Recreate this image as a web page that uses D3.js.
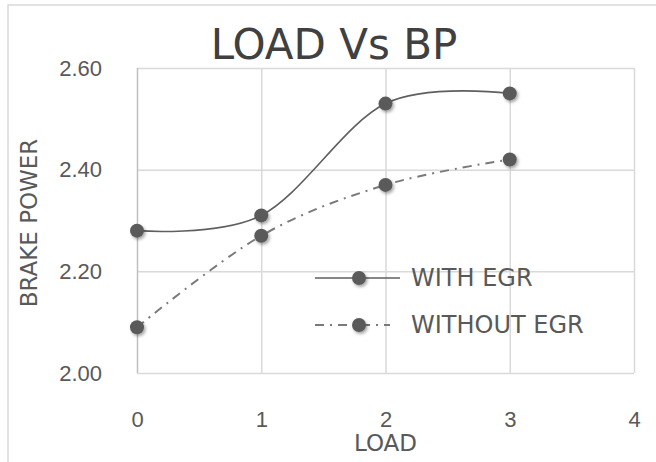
<!DOCTYPE html>
<html>
<head>
<meta charset="utf-8">
<script src="https://cdn.jsdelivr.net/npm/d3@7/dist/d3.min.js"></script>
<style>
  html, body { margin: 0; padding: 0; background: #fff; }
  svg { display: block; font-family: "DejaVu Sans", sans-serif; }
</style>
</head>
<body>
<svg id="chart" width="656" height="462"></svg>
<script>
// Данные графика
const loads = [0, 1, 2, 3];
const withEgr = [2.28, 2.31, 2.53, 2.55];
const withoutEgr = [2.09, 2.27, 2.37, 2.42];
const xTicks = [0, 1, 2, 3, 4];
const yTicks = [2.0, 2.2, 2.4, 2.6];
const seriesNames = ["WITH EGR", "WITHOUT EGR"];

const svg = d3.select("#chart");

// Рамка всей диаграммы (справа и снизу обрезана)
svg.append("rect")
    .attr("x", 8).attr("y", 5)
    .attr("width", 700).attr("height", 500)
    .attr("fill", "none")
    .attr("stroke", "#d9d9d9")
    .attr("stroke-width", 1.5);

const x = d3.scaleLinear().domain([0, 4]).range([137, 634]);
const y = d3.scaleLinear().domain([2.0, 2.6]).range([373, 68]);

const plotW = x.range()[1] - x.range()[0];
const plotH = y.range()[0] - y.range()[1];

// Тень для маркеров
const defs = svg.append("defs");
const shadow = defs.append("filter").attr("id", "shadow")
    .attr("x", "-50%").attr("y", "-50%").attr("width", "200%").attr("height", "200%");
shadow.append("feDropShadow")
    .attr("dx", 1.5).attr("dy", 2)
    .attr("stdDeviation", 1.8)
    .attr("flood-color", "#000")
    .attr("flood-opacity", 0.35);

// Ось Y с сеткой
const yAxis = svg.append("g")
    .attr("transform", `translate(${x.range()[0]},0)`)
    .call(d3.axisLeft(y).tickValues(yTicks).tickFormat(d3.format(".2f"))
        .tickSizeInner(-plotW).tickSizeOuter(0).tickPadding(35));
yAxis.select(".domain").remove();
yAxis.selectAll("line").attr("stroke", "#d9d9d9").attr("stroke-width", 1.5);
yAxis.selectAll("text")
    .attr("fill", "#595959")
    .style("font-size", "22px");

// Ось X с сеткой
const xAxis = svg.append("g")
    .attr("transform", `translate(0,${y.range()[0]})`)
    .call(d3.axisBottom(x).tickValues(xTicks).tickFormat(d3.format("d"))
        .tickSizeInner(-plotH).tickSizeOuter(0).tickPadding(38));
xAxis.select(".domain").remove();
xAxis.selectAll("line")
    .attr("stroke", d => d === 0 ? "#bfbfbf" : "#d9d9d9")
    .attr("stroke-width", 1.5);
xAxis.selectAll("text")
    .attr("fill", "#595959")
    .style("font-size", "22px");

// Заголовок
svg.append("text")
    .attr("x", 334).attr("y", 59)
    .attr("text-anchor", "middle")
    .attr("fill", "#404040")
    .style("font-size", "42px")
    .text("LOAD Vs BP");

// Подписи осей
svg.append("text")
    .attr("x", x(2)).attr("y", 451)
    .attr("text-anchor", "middle")
    .attr("fill", "#595959")
    .style("font-size", "23px")
    .text("LOAD");

svg.append("text")
    .attr("transform", "translate(37,223) rotate(-90)")
    .attr("text-anchor", "middle")
    .attr("fill", "#595959")
    .style("font-size", "23px")
    .text("BRAKE POWER");

// Линии серий
const line = d3.line()
    .x(d => x(d[0]))
    .y(d => y(d[1]))
    .curve(d3.curveCardinal.tension(0));

const series = [
    { name: seriesNames[0], values: loads.map((l, i) => [l, withEgr[i]]), dash: null, color: "#5f5f5f", width: 1.6 },
    { name: seriesNames[1], values: loads.map((l, i) => [l, withoutEgr[i]]), dash: "9,6,2,6", color: "#7a7a7a", width: 2 }
];

series.forEach(s => {
    svg.append("path")
        .datum(s.values)
        .attr("d", line)
        .attr("fill", "none")
        .attr("stroke", s.color)
        .attr("stroke-width", s.width)
        .attr("stroke-dasharray", s.dash);
});

series.forEach(s => {
    svg.append("g")
        .selectAll("circle")
        .data(s.values)
        .enter()
        .append("circle")
        .attr("cx", d => x(d[0]))
        .attr("cy", d => y(d[1]))
        .attr("r", 7)
        .attr("fill", "#5a5a5a")
        .attr("filter", "url(#shadow)");
});

// Легенда
const legend = svg.append("g");
series.forEach((s, i) => {
    const ly = 278 + i * 47;
    const row = legend.append("g");
    row.append("line")
        .attr("x1", 315).attr("x2", i === 0 ? 400 : 390)
        .attr("y1", ly).attr("y2", ly)
        .attr("stroke", s.color)
        .attr("stroke-width", s.width)
        .attr("stroke-dasharray", s.dash);
    row.append("circle")
        .attr("cx", 359).attr("cy", ly)
        .attr("r", 7)
        .attr("fill", "#5a5a5a")
        .attr("filter", "url(#shadow)");
    row.append("text")
        .attr("x", 411).attr("y", ly + 8)
        .attr("fill", "#595959")
        .style("font-size", "24px")
        .text(s.name);
});
</script>
</body>
</html>
